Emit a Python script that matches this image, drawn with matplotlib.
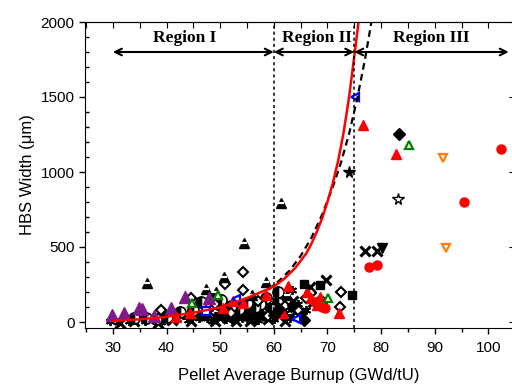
import matplotlib
matplotlib.use("Agg")
import matplotlib.pyplot as plt
from matplotlib.ticker import MultipleLocator

# ---- data (burnup GWd/tU, HBS width um) ----
ast_x = [29.5, 31.0, 33.0, 36.0, 39.0, 42.0, 43.0, 45.0, 46.0, 47.5, 48.0, 49.0, 50.5, 51.0,
         52.0, 53.0, 53.5, 54.5, 55.5, 56.0, 56.5, 57.5, 58.0, 58.5, 59.5, 60.5, 61.5, 63.4,
         64.5, 66.0, 44.0, 48.5, 50.0, 51.5, 52.5, 54.0, 55.0, 57.0, 59.0, 60.0, 62.0, 63.0,
         65.0, 46.5, 58.0, 61.0]
ast_y = [10, 0, 5, 10, 2, 20, 45, 60, 30, 25, 70, 40, 50, 20,
         35, 60, 90, 45, 70, 100, 55, 80, 40, 30, 60, 147, 90, 213,
         120, 80, 15, 10, 75, 85, 15, 25, 30, 15, 110, 20, 60, 30,
         50, 50, 120, 170]

xm_x = [31.4, 38.5, 34.0, 41.0, 44.5, 47.0, 50.0, 52.5, 53.0, 55.0, 56.0, 57.0, 58.0, 59.0,
        61.0, 62.5, 64.0, 66.7, 67.3, 69.7, 77.0, 79.2, 49.0, 51.5, 54.0, 55.5, 57.5, 60.0,
        62.0, 63.5]
xm_y = [-7, -7, 5, 15, 10, 40, 30, 60, 10, 80, 20, 50, 110, 20,
        40, 100, 70, 236, 135, 280, 473, 473, 5, 25, 50, 5, 90, 75,
        10, 140]

hc_x = [33.9, 36.1, 40.1, 42.6, 46.4, 48.5, 50.1, 52.0, 53.5, 55.0, 56.5, 57.5, 58.5, 59.5,
        60.8, 60.8, 62.0, 45.0, 38.0]
hc_y = [27, 25, 31, 69, 135, 151, 147, 110, 90, 130, 100, 120, 160, 90,
        202, 124, 150, 80, 20]

od_x = [38.9, 44.6, 50.9, 54.2, 54.3, 67.0, 69.2, 72.5, 72.3, 49.0, 52.0, 57.0, 62.0, 64.5, 66.0, 59.0]
od_y = [80, 158, 253, 335, 213, 191, 135, 197, 100, 120, 60, 140, 110, 80, 160, 40]

ht_x = [36.3, 47.3, 49.2, 50.7, 54.5, 58.5, 61.3, 56.0, 62.5]
ht_y = [262, 218, 202, 302, 524, 269, 791, 180, 180]

pt_x = [29.8, 32.0, 34.8, 35.4, 37.6, 40.8, 43.5, 47.9]
pt_y = [47, 62, 91, 85, 40, 91, 169, 158]

rt_x = [41.7, 44.3, 50.5, 52.4, 54.3, 58.6, 62.6, 61.7, 66.1, 67.0, 68.1, 68.6, 72.1, 76.6, 82.8]
rt_y = [36, 62, 95, 140, 129, 183, 242, 62, 202, 158, 113, 169, 58, 1313, 1120]

rc_x = [67.6, 68.9, 69.5, 77.7, 79.2, 95.4, 102.4]
rc_y = [135, 102, 91, 365, 378, 802, 1153]

bd_x = [60.0, 63.6, 65.6, 83.3, 56.5, 61.0]
bd_y = [50, 113, 13, 1253, 30, 90]

bs_x = [65.6, 68.6, 74.5]
bs_y = [251, 247, 178]

bdt_x = [80.1]
bdt_y = [491]

blt_x = [53.0, 64.1, 75.1]
blt_y = [151, 18, 1500]

bsq_x = [47.3]
bsq_y = [75]

gt_x = [44.8, 49.6, 70.1, 85.2]
gt_y = [129, 180, 158, 1180]

ot_x = [91.5, 92.2]
ot_y = [1093, 495]

star_x = [74.0]
star_y = [1000]
ostar_x = [83.2]
ostar_y = [820]

# fitted curves, points
red_x = [30, 35, 40, 45, 50, 55, 60, 62, 64, 66, 67, 68, 69, 70, 71, 72, 73, 74, 75, 75.8]
red_y = [8, 18, 35, 62, 98, 160, 236, 290, 360, 455, 520, 600, 690, 800, 925, 1075, 1260,
         1490, 1770, 2000]

dash_x = [59, 61, 63, 65, 67, 69, 71, 72.5, 74, 75.5, 77, 78.2]
dash_y = [215, 275, 345, 440, 560, 715, 900, 1060, 1250, 1480, 1750, 2000]

regions = ["Region I", "Region II", "Region III"]
region_bounds = [(30, 60), (60, 75), (75, 103.8)]
region_text_x = [43.4, 68.0, 89.4]

plt.rcParams['font.family'] = ['Liberation Sans', 'DejaVu Sans']

fig = plt.figure(figsize=(5.12, 3.85), dpi=100)
ax = fig.add_axes([85 / 512, 57 / 385, 428 / 512, 306 / 385])

ms = 6.5
ax.plot(ast_x, ast_y, ls='none', marker=(6, 2, 0), ms=ms, mec='black', mew=1.3)
ax.plot(xm_x, xm_y, ls='none', marker='x', ms=ms, mec='black', mew=2.2)
ax.plot(hc_x, hc_y, ls='none', marker='o', ms=ms + 1.5, fillstyle='left', mfc='black',
        mfcalt='white', mec='black', mew=1.2)
ax.plot(od_x, od_y, ls='none', marker='D', ms=ms - 1, mfc='white', mec='black', mew=1.5)
ax.plot(ht_x, ht_y, ls='none', marker='^', ms=ms + 0.5, mfc='black', mec='black')
ax.plot(ht_x, ht_y, ls='none', marker='_', ms=ms - 2.5, mec='white', mew=1.6)
ax.plot(pt_x, pt_y, ls='none', marker='^', ms=ms + 2, mfc='#7f1a8a', mec='#7f1a8a')
ax.plot(rt_x, rt_y, ls='none', marker='^', ms=ms, mfc='red', mec='red')
ax.plot(rc_x, rc_y, ls='none', marker='o', ms=ms, mfc='red', mec='red')
ax.plot(bd_x, bd_y, ls='none', marker='D', ms=ms - 0.5, mfc='black', mec='black')
ax.plot(bs_x, bs_y, ls='none', marker='s', ms=ms - 0.5, mfc='black', mec='black')
ax.plot(bdt_x, bdt_y, ls='none', marker='v', ms=ms, mfc='black', mec='black')
ax.plot(blt_x, blt_y, ls='none', marker='<', ms=ms - 0.5, mfc='white', mec='blue', mew=1.6)
ax.plot(bsq_x, bsq_y, ls='none', marker='s', ms=ms - 1, mfc='white', mec='blue', mew=1.6)
ax.plot(gt_x, gt_y, ls='none', marker='^', ms=ms - 0.5, mfc='white', mec='green', mew=1.6)
ax.plot(ot_x, ot_y, ls='none', marker='v', ms=ms - 0.5, mfc='white', mec='#ff7f0e', mew=1.6)
ax.plot(star_x, star_y, ls='none', marker='*', ms=ms + 2, mfc='black', mec='black')
ax.plot(ostar_x, ostar_y, ls='none', marker='*', ms=ms + 2, mfc='white', mec='black', mew=1)

ax.plot(dash_x, dash_y, color='black', lw=1.6, ls=(0, (3, 2)))
ax.plot(red_x, red_y, color='red', lw=1.8)

# region boundaries and arrows
for xb in (60, 75):
    ax.axvline(xb, color='black', lw=1.1, ls=(0, (2, 2)))
for name, (a, b), tx in zip(regions, region_bounds, region_text_x):
    ax.annotate('', xy=(a, 1800), xytext=(b, 1800),
                arrowprops=dict(arrowstyle='<->', color='black', lw=1.5,
                                shrinkA=0, shrinkB=0, mutation_scale=12))
    ax.text(tx, 1895, name, ha='center', va='center', fontsize=12.5, fontweight='bold',
            family=['Liberation Serif', 'DejaVu Serif'])

ax.set_xlim(24.8, 104.6)
ax.set_ylim(-40, 2000)
ax.xaxis.set_major_locator(MultipleLocator(10))
ax.xaxis.set_minor_locator(MultipleLocator(5))
ax.yaxis.set_major_locator(MultipleLocator(500))
ax.yaxis.set_minor_locator(MultipleLocator(100))
ax.tick_params(axis='x', which='major', direction='out', length=4, width=1, labelsize=11, pad=5)
ax.tick_params(axis='x', which='minor', direction='out', length=3, width=1)
ax.tick_params(axis='y', which='major', direction='out', length=4, width=1, labelsize=11)
ax.tick_params(axis='y', which='minor', direction='in', length=3, width=1)

top = ax.secondary_xaxis('top')
top.xaxis.set_major_locator(MultipleLocator(5))
top.tick_params(direction='in', length=4, labeltop=False)
right = ax.secondary_yaxis('right')
right.yaxis.set_major_locator(MultipleLocator(500))
right.tick_params(direction='in', length=3, labelright=False)

ax.set_xlabel('Pellet Average Burnup (GWd/tU)', fontsize=12, labelpad=10)
ax.set_ylabel('HBS Width (\u03bcm)', fontsize=12, labelpad=4)

fig.savefig('out.png', dpi=100)
